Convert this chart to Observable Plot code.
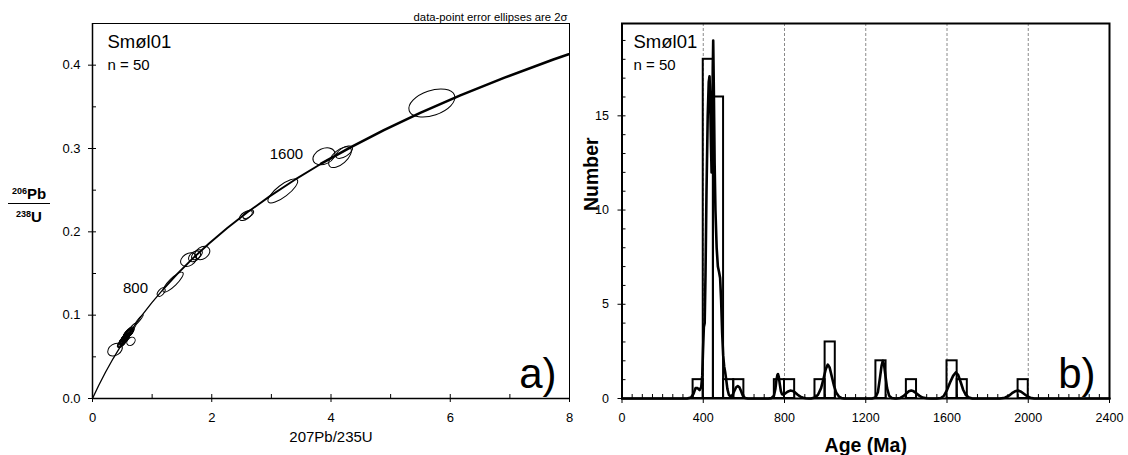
<!DOCTYPE html>
<html>
<head>
<meta charset="utf-8">
<script src="https://cdn.jsdelivr.net/npm/d3@7"></script>
<script src="https://cdn.jsdelivr.net/npm/@observablehq/plot@0.6"></script>
<style>
html, body { margin: 0; padding: 0; background: #fff; }
#wrap { position: relative; width: 1128px; height: 455px; font-family: "Liberation Sans", Arial, sans-serif; overflow: hidden; }
#a { position: absolute; left: 0; top: 0; }
#b { position: absolute; left: 570px; top: 0; }
#ylabA { position: absolute; left: 8px; top: 184px; width: 42px; text-align: center; font-weight: bold; font-size: 15px; line-height: 15px; color: #000; }
#ylabA .sup { font-size: 9px; vertical-align: 5px; }
#ylabA .bar { border-top: 1.6px solid #000; margin: 2px 0 3px 0; }
</style>
</head>
<body>
<div id="wrap">
  <div id="a"></div>
  <div id="b"></div>
  <div id="ylabA"><div><span class="sup">206</span>Pb</div><div class="bar"></div><div><span class="sup">238</span>U</div></div>
</div>
<script>
// ---------- Panel a: concordia diagram ----------
const concAge = [0, 100, 200, 300, 400, 500, 600, 700, 800, 900, 1000, 1100, 1200, 1300, 1400, 1500, 1600, 1700, 1800, 1900, 2000, 2100, 2200, 2300];
const concX = [0, 0.10350, 0.21771, 0.34375, 0.48281, 0.63628, 0.80563, 0.99251, 1.19873, 1.42629, 1.67741, 1.95452, 2.26030, 2.59774, 2.97009, 3.38099, 3.83441, 4.33477, 4.88690, 5.49618, 6.16853, 6.91046, 7.72917, 8.63262];
const concY = [0, 0.015633, 0.031511, 0.047637, 0.064016, 0.080650, 0.097544, 0.114702, 0.132129, 0.149828, 0.167804, 0.186061, 0.204603, 0.223435, 0.242562, 0.261987, 0.281716, 0.301754, 0.322105, 0.342783, 0.363766, 0.385086, 0.406740, 0.428732];
const concLabelAges = [800, 1600];

// grains: 207Pb/235U, 206Pb/238U, 2-sigma half widths, error correlation
const grainX   = [0.386, 0.487, 0.490, 0.501, 0.515, 0.654, 0.519, 0.524, 0.530, 0.520, 0.536, 0.528, 0.531, 0.540, 0.535, 0.548, 0.552, 0.560, 0.550,
                  0.556, 0.562, 0.559, 0.565, 0.553, 0.566, 0.572, 0.578, 0.586, 0.597, 0.605, 0.610, 0.612, 0.618, 0.625, 0.633,
                  0.660, 0.790, 1.160, 1.360, 1.620, 1.720, 1.760, 1.850, 2.580, 2.620, 3.200, 3.890, 4.160, 4.230, 5.700];
const grainY   = [0.0580, 0.0645, 0.0648, 0.0660, 0.0673, 0.0680, 0.0682, 0.0686, 0.0688, 0.0690, 0.0691, 0.0693, 0.0694, 0.0698, 0.0703, 0.0711, 0.0716, 0.0717, 0.0719,
                  0.0723, 0.0722, 0.0724, 0.0726, 0.0728, 0.0731, 0.0736, 0.0742, 0.0752, 0.0764, 0.0772, 0.0775, 0.0778, 0.0782, 0.0792, 0.0800,
                  0.0827, 0.0940, 0.1270, 0.1390, 0.1660, 0.1700, 0.1720, 0.1740, 0.2190, 0.2205, 0.2485, 0.2900, 0.2890, 0.2950, 0.3540];
const grainSX  = [0.122, 0.060, 0.055, 0.065, 0.060, 0.070, 0.055, 0.060, 0.070, 0.060, 0.058, 0.062, 0.055, 0.065, 0.060, 0.062, 0.058, 0.065, 0.060,
                  0.060, 0.058, 0.062, 0.060, 0.055, 0.065, 0.060, 0.062, 0.065, 0.070, 0.075, 0.070, 0.072, 0.075, 0.070, 0.075,
                  0.080, 0.070, 0.065, 0.170, 0.134, 0.100, 0.090, 0.126, 0.110, 0.090, 0.250, 0.185, 0.190, 0.140, 0.386];
const grainSY  = [0.0076, 0.0040, 0.0038, 0.0042, 0.0040, 0.0050, 0.0036, 0.0040, 0.0042, 0.0040, 0.0038, 0.0040, 0.0036, 0.0042, 0.0040, 0.0040, 0.0038, 0.0042, 0.0040,
                  0.0040, 0.0038, 0.0040, 0.0040, 0.0036, 0.0042, 0.0040, 0.0042, 0.0044, 0.0046, 0.0048, 0.0046, 0.0048, 0.0050, 0.0048, 0.0050,
                  0.0070, 0.0060, 0.0050, 0.0120, 0.0082, 0.0065, 0.0060, 0.0080, 0.0060, 0.0050, 0.0144, 0.0102, 0.0125, 0.0075, 0.0168];
const grainRho = [0.3, 0.6, 0.6, 0.6, 0.6, 0.3, 0.6, 0.6, 0.6, 0.6, 0.6, 0.6, 0.6, 0.6, 0.6, 0.6, 0.6, 0.6, 0.6,
                  0.6, 0.6, 0.6, 0.6, 0.6, 0.6, 0.6, 0.6, 0.6, 0.6, 0.6, 0.6, 0.6, 0.6, 0.6, 0.6,
                  0.9, 0.95, 0.5, 0.85, 0.3, 0.4, 0.5, 0.3, 0.6, 0.6, 0.8, 0.3, 0.6, 0.6, 0.4];

const xTicksA = [0, 2, 4, 6, 8];
const xMinorA = [1, 3, 5, 7];
const yTicksA = [0, 0.1, 0.2, 0.3, 0.4];
const yMinorA = [0.05, 0.15, 0.25, 0.35];

// ---------- Panel b: histogram + probability density ----------
const binStart = [350, 400, 450, 500, 550, 750, 800, 950, 1000, 1250, 1400, 1600, 1650, 1950];
const binCount = [1, 18, 16, 1, 1, 1, 1, 1, 3, 2, 1, 2, 1, 1];
const binWidth = 50;

const pdpAge = [0, 320, 340, 352, 362, 372, 382, 390, 395, 399, 403, 407, 411, 416, 422, 427, 431, 434, 438, 441, 444, 447, 449, 452, 456, 460, 466, 472, 478, 483, 488, 493, 498, 503, 508, 513, 519, 526, 535, 545, 553, 562, 570, 578, 586, 595, 605, 620,
  720, 735, 748, 755, 760, 765, 768, 772, 777, 782, 788, 795, 805, 815, 828, 840, 852, 865, 878, 892, 905, 920,
  930, 950, 965, 980, 992, 1003, 1013, 1022, 1032, 1043, 1055, 1068, 1080, 1095,
  1230, 1248, 1260, 1270, 1278, 1284, 1290, 1297, 1305, 1315, 1328, 1345,
  1350, 1370, 1385, 1400, 1412, 1424, 1436, 1450, 1465, 1480, 1500, 1520,
  1550, 1570, 1585, 1600, 1615, 1630, 1643, 1655, 1668, 1680, 1693, 1708, 1725,
  1860, 1885, 1905, 1920, 1935, 1950, 1965, 1980, 1995, 2010, 2030, 2400];
const pdpValue = [0, 0, 0.05, 0.25, 0.55, 0.55, 0.45, 0.6, 1.2, 2.6, 3.8, 4.0, 6.5, 11, 15, 16.8, 17.1, 16, 13.5, 12.0, 13.5, 17.5, 19.0, 16.5, 12.5, 10, 8, 7, 6.7, 6.4, 5.2, 3.5, 2.3, 1.7, 1.4, 1.0, 0.5, 0.2, 0.1, 0.2, 0.4, 0.6, 0.66, 0.6, 0.4, 0.15, 0.03, 0,
  0, 0.02, 0.15, 0.5, 0.95, 1.25, 1.3, 1.15, 0.75, 0.4, 0.22, 0.2, 0.28, 0.36, 0.42, 0.4, 0.32, 0.2, 0.1, 0.04, 0.01, 0,
  0, 0.05, 0.2, 0.55, 1.05, 1.55, 1.8, 1.65, 1.2, 0.7, 0.3, 0.1, 0.03, 0,
  0, 0.05, 0.35, 1.1, 1.75, 2.0, 1.8, 1.2, 0.55, 0.15, 0.03, 0,
  0, 0.03, 0.12, 0.27, 0.38, 0.42, 0.38, 0.27, 0.14, 0.05, 0.01, 0,
  0, 0.03, 0.15, 0.45, 0.85, 1.2, 1.38, 1.25, 0.85, 0.45, 0.18, 0.05, 0,
  0, 0.04, 0.15, 0.28, 0.38, 0.42, 0.36, 0.24, 0.12, 0.04, 0, 0];

const xTicksB = [0, 400, 800, 1200, 1600, 2000, 2400];
const gridB = [400, 800, 1200, 1600, 2000];
const yTicksB = [0, 5, 10, 15];

const sampleName = "Smøl01";
const sampleN = "n = 50";

// ---------- build ----------
const FONT = "'Liberation Sans', Arial, Helvetica, sans-serif";
const concordia = concAge.map((t, i) => ({t, x: concX[i], y: concY[i]}));
const grains = grainX.map((x, i) => ({x, y: grainY[i], sx: grainSX[i], sy: grainSY[i], rho: grainRho[i]}));
const bins = binStart.map((s, i) => ({start: s, count: binCount[i]}));
const pdp = pdpAge.map((a, i) => ({age: a, value: pdpValue[i]}));
const xMinorB = d3.range(50, 2400, 50).filter(v => v % 400 !== 0);
const yMinorB = d3.range(1, 20).filter(v => v % 5 !== 0);

// error ellipses drawn through the plot's own scales
function ellipseMark(data) {
  return (index, scales) => {
    const {x, y} = scales;
    const kx = Math.abs(x(1) - x(0)), ky = Math.abs(y(1) - y(0));
    const g = d3.create("svg:g").attr("fill", "none").attr("stroke", "black").attr("stroke-width", 1);
    for (const d of data) {
      const sxp = d.sx * kx, syp = d.sy * ky;
      const a = sxp * sxp, c = syp * syp, b = -d.rho * sxp * syp;
      const m = (a + c) / 2, r = Math.sqrt(((a - c) / 2) ** 2 + b * b);
      const l1 = m + r, l2 = Math.max(m - r, 0);
      const th = 0.5 * Math.atan2(2 * b, a - c) * 180 / Math.PI;
      g.append("ellipse")
        .attr("transform", `translate(${x(d.x)},${y(d.y)}) rotate(${th})`)
        .attr("rx", Math.sqrt(l1)).attr("ry", Math.sqrt(l2));
    }
    return g.node();
  };
}

const plotA = Plot.plot({
  width: 580, height: 455,
  marginLeft: 92, marginRight: 11, marginTop: 23, marginBottom: 57,
  x: {domain: [0, 8], label: null},
  y: {domain: [0, 0.45], label: null},
  style: {fontFamily: FONT, fontSize: "13px", background: "transparent", color: "black"},
  marks: [
    Plot.frame({stroke: "black", strokeWidth: 1}),
    Plot.line(concordia.filter(d => d.t <= 800), {x: "x", y: "y", stroke: "black", strokeWidth: 1.3, clip: true}),
    Plot.line(concordia.filter(d => d.t >= 800 && d.t <= 1600), {x: "x", y: "y", stroke: "black", strokeWidth: 1.9, clip: true}),
    Plot.line(concordia.filter(d => d.t >= 1600), {x: "x", y: "y", stroke: "black", strokeWidth: 2.6, clip: true}),
    ellipseMark(grains),
    Plot.text(concordia.filter(d => d.t === concLabelAges[0]), {
      x: "x", y: "y", text: d => String(d.t), textAnchor: "end", dx: -16, dy: 0, fontSize: 15, fill: "black"
    }),
    Plot.text(concordia.filter(d => d.t === concLabelAges[1]), {
      x: "x", y: "y", text: d => String(d.t), textAnchor: "end", dx: -18, dy: -10, fontSize: 15, fill: "black"
    }),
    Plot.ruleX([0], {stroke: "black", strokeWidth: 1.5}),
    Plot.ruleY([0], {stroke: "black", strokeWidth: 1.5}),
    Plot.axisX(xTicksA, {anchor: "bottom", tickSize: 8, dy: -4, tickFormat: () => "", label: null, stroke: "black"}),
    Plot.axisX(xMinorA, {anchor: "bottom", tickSize: 4, dy: -4, tickFormat: () => "", label: null, stroke: "black"}),
    Plot.axisX(xTicksA, {anchor: "bottom", tickSize: 0, tickPadding: 14, tickFormat: d => String(d), label: null, fontSize: 13, fill: "black"}),
    Plot.axisY(yTicksA, {anchor: "left", tickSize: 8, dx: 4, tickFormat: () => "", label: null, stroke: "black"}),
    Plot.axisY(yMinorA, {anchor: "left", tickSize: 4, dx: 4, tickFormat: () => "", label: null, stroke: "black"}),
    Plot.axisY(yTicksA, {anchor: "left", tickSize: 0, tickPadding: 12, tickFormat: d3.format(".1f"), label: null, fontSize: 13, fill: "black"}),
    Plot.text([sampleName], {frameAnchor: "top-left", dx: 15, dy: 24, lineAnchor: "bottom", textAnchor: "start", fontSize: 18.5, fill: "black"}),
    Plot.text([sampleN], {frameAnchor: "top-left", dx: 15, dy: 46, lineAnchor: "bottom", textAnchor: "start", fontSize: 15, fill: "black"}),
    Plot.text(["a)"], {frameAnchor: "bottom-right", dx: -13, dy: -11, lineAnchor: "bottom", textAnchor: "end", fontSize: 42, fill: "black"}),
    Plot.text(["data-point error ellipses are 2σ"], {frameAnchor: "top-right", dx: -2, dy: -2.3, lineAnchor: "bottom", textAnchor: "end", fontSize: 11.3, fill: "black"}),
    Plot.text(["207Pb/235U"], {frameAnchor: "bottom", dy: 43, lineAnchor: "bottom", fontSize: 15, fill: "black"})
  ]
});
document.getElementById("a").append(plotA);

const plotB = Plot.plot({
  width: 558, height: 455,
  marginLeft: 51.5, marginRight: 19, marginTop: 23, marginBottom: 57,
  x: {domain: [0, 2400], label: null},
  y: {domain: [0, 19.9], label: null},
  style: {fontFamily: FONT, fontSize: "12px", background: "transparent", color: "black"},
  marks: [
    Plot.ruleX(gridB, {stroke: "#8a8a8a", strokeWidth: 1, strokeDasharray: "3,2"}),
    Plot.rect(bins, {x1: "start", x2: d => d.start + binWidth, y1: d => 0, y2: "count", fill: "none", stroke: "black", strokeWidth: 2}),
    Plot.line(pdp, {x: "age", y: "value", stroke: "black", strokeWidth: 2.6, strokeLinejoin: "round"}),
    Plot.frame({stroke: "black", strokeWidth: 2}),
    Plot.axisX(xTicksB, {anchor: "bottom", tickSize: 7, dy: -2, tickFormat: () => "", label: null, stroke: "black"}),
    Plot.axisX(xMinorB, {anchor: "bottom", tickSize: 4, dy: -4, tickFormat: () => "", label: null, stroke: "black"}),
    Plot.axisX(xTicksB, {anchor: "bottom", tickSize: 0, tickPadding: 15, tickFormat: d => String(d), label: null, fontSize: 12.5, fill: "black"}),
    Plot.axisY(yTicksB, {anchor: "left", tickSize: 8, dx: 4, tickFormat: () => "", label: null, stroke: "black"}),
    Plot.axisY(yMinorB, {anchor: "left", tickSize: 4, dx: 4, tickFormat: () => "", label: null, stroke: "black"}),
    Plot.axisY(yTicksB, {anchor: "left", tickSize: 0, tickPadding: 13, tickFormat: d => String(d), label: null, fontSize: 12.5, fill: "black"}),
    Plot.text([sampleName], {frameAnchor: "top-left", dx: 11.5, dy: 24, lineAnchor: "bottom", textAnchor: "start", fontSize: 18.5, fill: "black"}),
    Plot.text([sampleN], {frameAnchor: "top-left", dx: 11.5, dy: 46, lineAnchor: "bottom", textAnchor: "start", fontSize: 15, fill: "black"}),
    Plot.text(["b)"], {frameAnchor: "bottom-right", dx: -14, dy: -11, lineAnchor: "bottom", textAnchor: "end", fontSize: 42, fill: "black"}),
    Plot.text(["Age (Ma)"], {frameAnchor: "bottom", dy: 53, lineAnchor: "bottom", fontSize: 19.5, fontWeight: "bold", fill: "black"}),
    Plot.text(["Number"], {frameAnchor: "left", dx: -24.5, rotate: -90, lineAnchor: "bottom", fontSize: 19.5, fontWeight: "bold", fill: "black"})
  ]
});
document.getElementById("b").append(plotB);
</script>
</body>
</html>
